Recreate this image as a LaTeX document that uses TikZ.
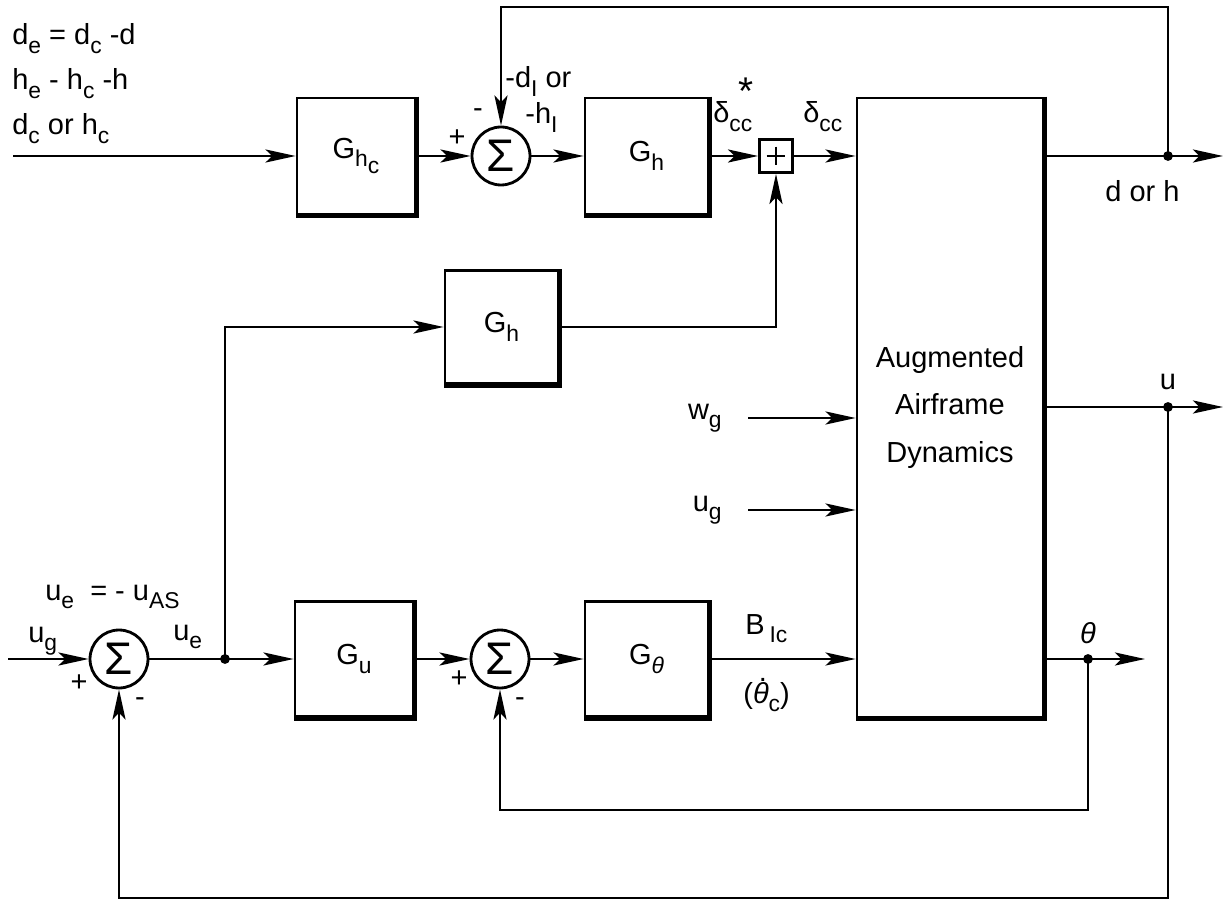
\documentclass[tikz,border=0pt]{standalone}
\usepackage{fontspec}
\setmainfont{Liberation Sans}
\usetikzlibrary{arrows.meta,calc,positioning}
\newcommand{\sub}[1]{\raisebox{-0.55ex}{\fontsize{13}{13}\selectfont #1}}
\newcommand{\thdot}{\textit{θ}\llap{\raisebox{0.74em}{.}\hspace{0.06em}}}

\begin{document}
\begin{tikzpicture}[x=0.02cm,y=-0.02cm,>={Stealth[length=6mm,width=2.6mm,inset=1.3mm]},font=\fontsize{16.5}{19}\selectfont]
  \tikzset{blockbox/.style={draw,line width=1.6pt,inner sep=0pt,minimum width=2.36cm,minimum height=2.32cm},
    sumnode/.style={draw,circle,line width=1.6pt,inner sep=0pt,minimum size=1.16cm,font=\fontsize{26}{26}\selectfont},
    plusbox/.style={draw,line width=1.6pt,minimum size=0.66cm,inner sep=0pt,
      path picture={\draw[line width=1.3pt] ([yshift=-4pt]path picture bounding box.north) -- ([yshift=4pt]path picture bounding box.south)
        ([xshift=4pt]path picture bounding box.west) -- ([xshift=-4pt]path picture bounding box.east);}},
    wire/.style={line width=1.6pt},
    lbl/.style={inner sep=0pt}}
  \useasboundingbox (0,0) rectangle (1225,902);

  % top row
  \node[blockbox] (ghc) at (356,156) {G\sub{h\sub{c}}};
  \node[sumnode] (sh) at (501,156) {Σ};
  \node[blockbox,minimum width=2.46cm] (gh) at (646.5,156) {G\sub{h}};
  \node[plusbox] (pl) at (776,156) {};
  \node[draw,line width=1.6pt,inner sep=0pt,minimum width=3.72cm,minimum height=12.38cm,align=center,
    font=\fontsize{16.5}{27}\selectfont] (aad) at (950,407.5) {Augmented\\Airframe\\Dynamics};

  % middle
  \node[blockbox,minimum width=2.26cm,minimum height=2.26cm] (ghm) at (501.5,327) {G\sub{h}};

  % bottom row
  \node[sumnode] (su) at (119,659) {Σ};
  \coordinate (ju) at (225,659);
  \node[blockbox,minimum height=2.3cm] (gu) at (354,659) {G\sub{u}};
  \node[sumnode] (st) at (500,659) {Σ};
  \node[blockbox,minimum width=2.46cm,minimum height=2.3cm] (gt) at (646.5,659) {G\sub{\textit{θ}}};

  \foreach \b in {ghc,gh,ghm,gu,gt,aad}
    \draw[line width=3pt] (\b.north east) -- (\b.south east) -- (\b.south west);

  \node[anchor=east,lbl] (wg) at (722,418) {w\sub{g}};
  \node[anchor=east,lbl] (ug) at (722,510) {u\sub{g}};

  \coordinate (hin) at (13,156);
  \coordinate (dh) at (1168,156);
  \coordinate (dhout) at (1223,156);
  \coordinate (fbtop) at (1168,7);
  \coordinate (ud) at (1168,407);
  \coordinate (uout) at (1223,407);
  \coordinate (ubot) at (1168,898);
  \coordinate (td) at (1088,659);
  \coordinate (tout) at (1145,659);
  \coordinate (tbot) at (1088,810);
  \coordinate (ugin) at (8,659);

  \draw[wire,->] (hin) -- (ghc);
  \draw[wire,->] (ghc) -- (sh);
  \draw[wire,->] (sh) -- (gh);
  \draw[wire,->] (gh) -- (pl);
  \draw[wire,->] (pl) -- (pl -| aad.west);
  \draw[wire,->] (aad.east |- dh) -- (dhout);
  \draw[wire,->] (dh) -- (fbtop) -| (sh);
  \draw[wire,->] (ju) |- (ghm);
  \draw[wire,->] (ghm) -| (pl);
  \draw[wire,->] ([xshift=15pt]wg.east) -- (wg.east -| aad.west);
  \draw[wire,->] ([xshift=15pt]ug.east) -- (ug.east -| aad.west);
  \draw[wire,->] (ugin) -- (su);
  \draw[wire] (su) -- (ju);
  \draw[wire,->] (ju) -- (gu);
  \draw[wire,->] (gu) -- (st);
  \draw[wire,->] (st) -- (gt);
  \draw[wire,->] (gt) -- (gt -| aad.west);
  \draw[wire,->] (aad.east |- ud) -- (uout);
  \draw[wire,->] (ud) -- (ubot) -| (su);
  \draw[wire,->] (aad.east |- td) -- (tout);
  \draw[wire,->] (td) -- (tbot) -| (st);
  \foreach \p in {ju,dh,ud,td}
    \fill (\p) circle (2.8pt);

  % labels
  \node[anchor=base west,lbl] (de) at (12,45) {d\sub{e} = d\sub{c} -d};
  \node[anchor=base west,lbl] (he) at (12,90) {h\sub{e} - h\sub{c} -h};
  \node[anchor=base west,lbl] (dc) at (12,135) {d\sub{c} or h\sub{c}};
  \node[lbl] (shp) at (457,138) {+};
  \node[lbl] (shm) at (478,113) {-};
  \node[anchor=base west,lbl] (dil) at (505,88) {-d\sub{I} or};
  \node[anchor=base west,lbl] (hil) at (525,124) {-h\sub{I}};
  \node[anchor=base west,lbl] (dstar) at (713,123) {δ\sub{cc}};
  \node[lbl,font=\fontsize{22}{22}\selectfont] (star) at (746,91) {*};
  \node[anchor=base west,lbl] (dcc) at (803,123) {δ\sub{cc}};
  \node[anchor=base west,lbl] (dhl) at (1105,202) {d or h};
  \node[anchor=base,lbl] (ul) at (1168,390) {u};
  \node[anchor=base,lbl] (tl) at (1088,643) {\textit{θ}};
  \node[anchor=base west,lbl] (bl) at (745,634) {B\,\sub{Ic}};
  \node[anchor=base west,lbl] (tcl) at (743,703) {(\thdot\sub{c})};
  \node[anchor=base west,lbl] (uas) at (45,600) {u\sub{e} \ = - u\sub{AS}};
  \node[anchor=base west,lbl] (ugl) at (28,642) {u\sub{g}};
  \node[anchor=base west,lbl] (uel) at (173,640) {u\sub{e}};
  \node[lbl] (sup) at (79,683) {+};
  \node[lbl] (sum) at (140,702) {-};
  \node[lbl] (stp) at (459,679) {+};
  \node[lbl] (stm) at (520,702) {-};
\end{tikzpicture}
\end{document}
